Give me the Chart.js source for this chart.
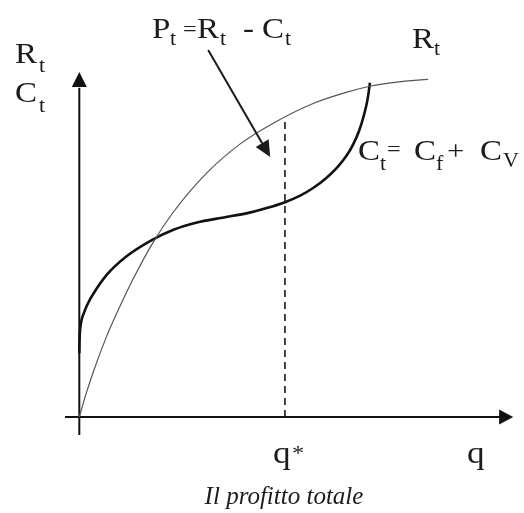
<!DOCTYPE html>
<html>
<head>
<meta charset="utf-8">
<script src="https://cdn.jsdelivr.net/npm/chart.js@4.4.1/dist/chart.umd.min.js"></script>
<style>
  html, body { margin: 0; padding: 0; background: #fff; }
  #wrap { width: 524px; height: 513px; position: relative; }
</style>
</head>
<body>
<div id="wrap"><canvas id="chart"></canvas></div>
<script>
// total revenue R_t (thin curve)
var revQ = [0, 1.5, 3.2, 6.3, 9.4, 12.4, 16.7, 21.6, 29.4, 37.1, 44.7, 53.9, 61.7, 67.0, 73.2, 80.4];
var revV = [0, 6.5, 13.0, 23.4, 32.2, 40.0, 50.0, 59.3, 70.8, 79.2, 85.2, 90.9, 94.2, 95.9, 97.1, 97.9];

// total cost C_t = C_f + C_v (thick curve)
var costQ = [0, 0.05, 0.2, 0.5, 1.0, 1.7, 2.5, 3.2, 6.3, 10.9, 16.7, 21.7, 27.1, 33.0, 39.0, 43.2, 47.4, 50.9, 53.9, 57.0, 59.3, 61.5, 63.1, 64.5, 65.6, 66.4, 67.0];
var costV = [18.5, 22.0, 25.5, 28.0, 30.0, 32.2, 34.2, 35.7, 41.2, 46.6, 51.3, 54.3, 56.4, 57.8, 59.2, 60.6, 62.3, 64.2, 66.4, 69.4, 72.2, 75.6, 79.0, 83.0, 87.5, 91.8, 96.9];

// q* (max profit) and the revenue there
var qStar = 47.4;
var qStarTop = 87.0;

// arrow pointing to the profit area (data coords)
var arrowFrom = [29.7, 106.4];
var arrowTo = [44.0, 75.4];

function toPoints(xs, ys) {
  var out = [];
  for (var i = 0; i < xs.length; i++) out.push({ x: xs[i], y: ys[i] });
  return out;
}

// text pieces: [text, x, baseline, size]
var labels = [
  ["R", 15, 63, 30], ["t", 39, 72, 20],
  ["C", 15, 102, 30], ["t", 39, 112, 20],
  ["P", 152, 38, 30], ["t", 170, 45, 20], ["=", 183, 36, 22], ["R", 197, 38, 30], ["t", 220, 45, 20],
  ["-", 243, 38, 30], ["C", 262, 38, 30], ["t", 285, 45, 20],
  ["R", 412, 48, 30], ["t", 434, 55, 20],
  ["C", 358, 160, 30], ["t", 380, 170, 20], ["=", 387, 156, 22], ["C", 414, 160, 30], ["f", 436, 170, 20],
  ["+", 447, 160, 28], ["C", 480, 160, 30], ["V", 503, 167, 20],
  ["q", 273, 463, 32], ["*", 292, 460, 22],
  ["q", 467, 463, 32]
];
var caption = "Il profitto totale";

var decor = {
  id: "decor",
  beforeDatasetsDraw: function(chart) {
    var ctx = chart.ctx;
    var xs = chart.scales.x, ys = chart.scales.y;
    var ox = xs.getPixelForValue(0), oy = ys.getPixelForValue(0);
    ctx.save();
    ctx.strokeStyle = "#111";
    ctx.fillStyle = "#111";
    ctx.lineWidth = 2;
    // y axis
    ctx.beginPath();
    ctx.moveTo(ox, ys.getPixelForValue(-5.2));
    ctx.lineTo(ox, ys.getPixelForValue(95.5));
    ctx.stroke();
    var ty = ys.getPixelForValue(100);
    ctx.beginPath();
    ctx.moveTo(ox, ty);
    ctx.lineTo(ox - 7.5, ty + 15);
    ctx.lineTo(ox + 7.5, ty + 15);
    ctx.closePath();
    ctx.fill();
    // x axis
    ctx.beginPath();
    ctx.moveTo(xs.getPixelForValue(-3.3), oy);
    ctx.lineTo(xs.getPixelForValue(97), oy);
    ctx.stroke();
    var tx = xs.getPixelForValue(100);
    ctx.beginPath();
    ctx.moveTo(tx, oy);
    ctx.lineTo(tx - 14, oy - 7.5);
    ctx.lineTo(tx - 14, oy + 7.5);
    ctx.closePath();
    ctx.fill();
    ctx.restore();
  },
  afterDatasetsDraw: function(chart) {
    var ctx = chart.ctx;
    var xs = chart.scales.x, ys = chart.scales.y;
    ctx.save();
    // arrow
    var x1 = xs.getPixelForValue(arrowFrom[0]), y1 = ys.getPixelForValue(arrowFrom[1]);
    var x2 = xs.getPixelForValue(arrowTo[0]), y2 = ys.getPixelForValue(arrowTo[1]);
    var ang = Math.atan2(y2 - y1, x2 - x1);
    var hl = 16, hw = 7.5;
    var bx = x2 - hl * Math.cos(ang), by = y2 - hl * Math.sin(ang);
    ctx.strokeStyle = "#1a1a1a";
    ctx.fillStyle = "#1a1a1a";
    ctx.lineWidth = 2;
    ctx.beginPath();
    ctx.moveTo(x1, y1);
    ctx.lineTo(bx, by);
    ctx.stroke();
    ctx.beginPath();
    ctx.moveTo(x2, y2);
    ctx.lineTo(bx + hw * Math.sin(ang), by - hw * Math.cos(ang));
    ctx.lineTo(bx - hw * Math.sin(ang), by + hw * Math.cos(ang));
    ctx.closePath();
    ctx.fill();

    // math labels
    ctx.fillStyle = "#1c1c1c";
    ctx.textBaseline = "alphabetic";
    ctx.textAlign = "left";
    labels.forEach(function(l) {
      ctx.save();
      ctx.translate(l[1], l[2]);
      ctx.scale(1.1, 1);
      ctx.font = l[3] + "px 'Liberation Serif', 'DejaVu Serif', serif";
      ctx.fillText(l[0], 0, 0);
      ctx.restore();
    });
    // caption
    ctx.font = "italic 25px 'Liberation Serif', serif";
    ctx.textAlign = "center";
    ctx.fillText(caption, 284, 504);
    ctx.restore();
  }
};

var ctx = document.getElementById("chart");

var chart = new Chart(ctx, {
  type: "scatter",
  data: {
    datasets: [
      {
        label: "R_t",
        data: toPoints(revQ, revV),
        showLine: true,
        borderColor: "#555",
        borderWidth: 1.2,
        pointRadius: 0,
        cubicInterpolationMode: "monotone",
        fill: false
      },
      {
        label: "C_t",
        data: toPoints(costQ, costV),
        showLine: true,
        borderColor: "#111",
        borderWidth: 2.6,
        pointRadius: 0,
        cubicInterpolationMode: "monotone",
        fill: false
      },
      {
        label: "q*",
        data: [{ x: qStar, y: 0 }, { x: qStar, y: qStarTop }],
        showLine: true,
        borderColor: "#1a1a1a",
        borderWidth: 1.6,
        borderDash: [7, 5],
        pointRadius: 0,
        fill: false
      }
    ]
  },
  options: {
    responsive: true,
    maintainAspectRatio: false,
    animation: false,
    layout: { padding: 0 },
    plugins: { legend: { display: false }, tooltip: { enabled: false } },
    scales: {
      x: { type: "linear", min: -18.28, max: 102.5, display: false },
      y: { type: "linear", min: -27.8, max: 120.9, display: false }
    }
  },
  plugins: [decor]
});
</script>
</body>
</html>
